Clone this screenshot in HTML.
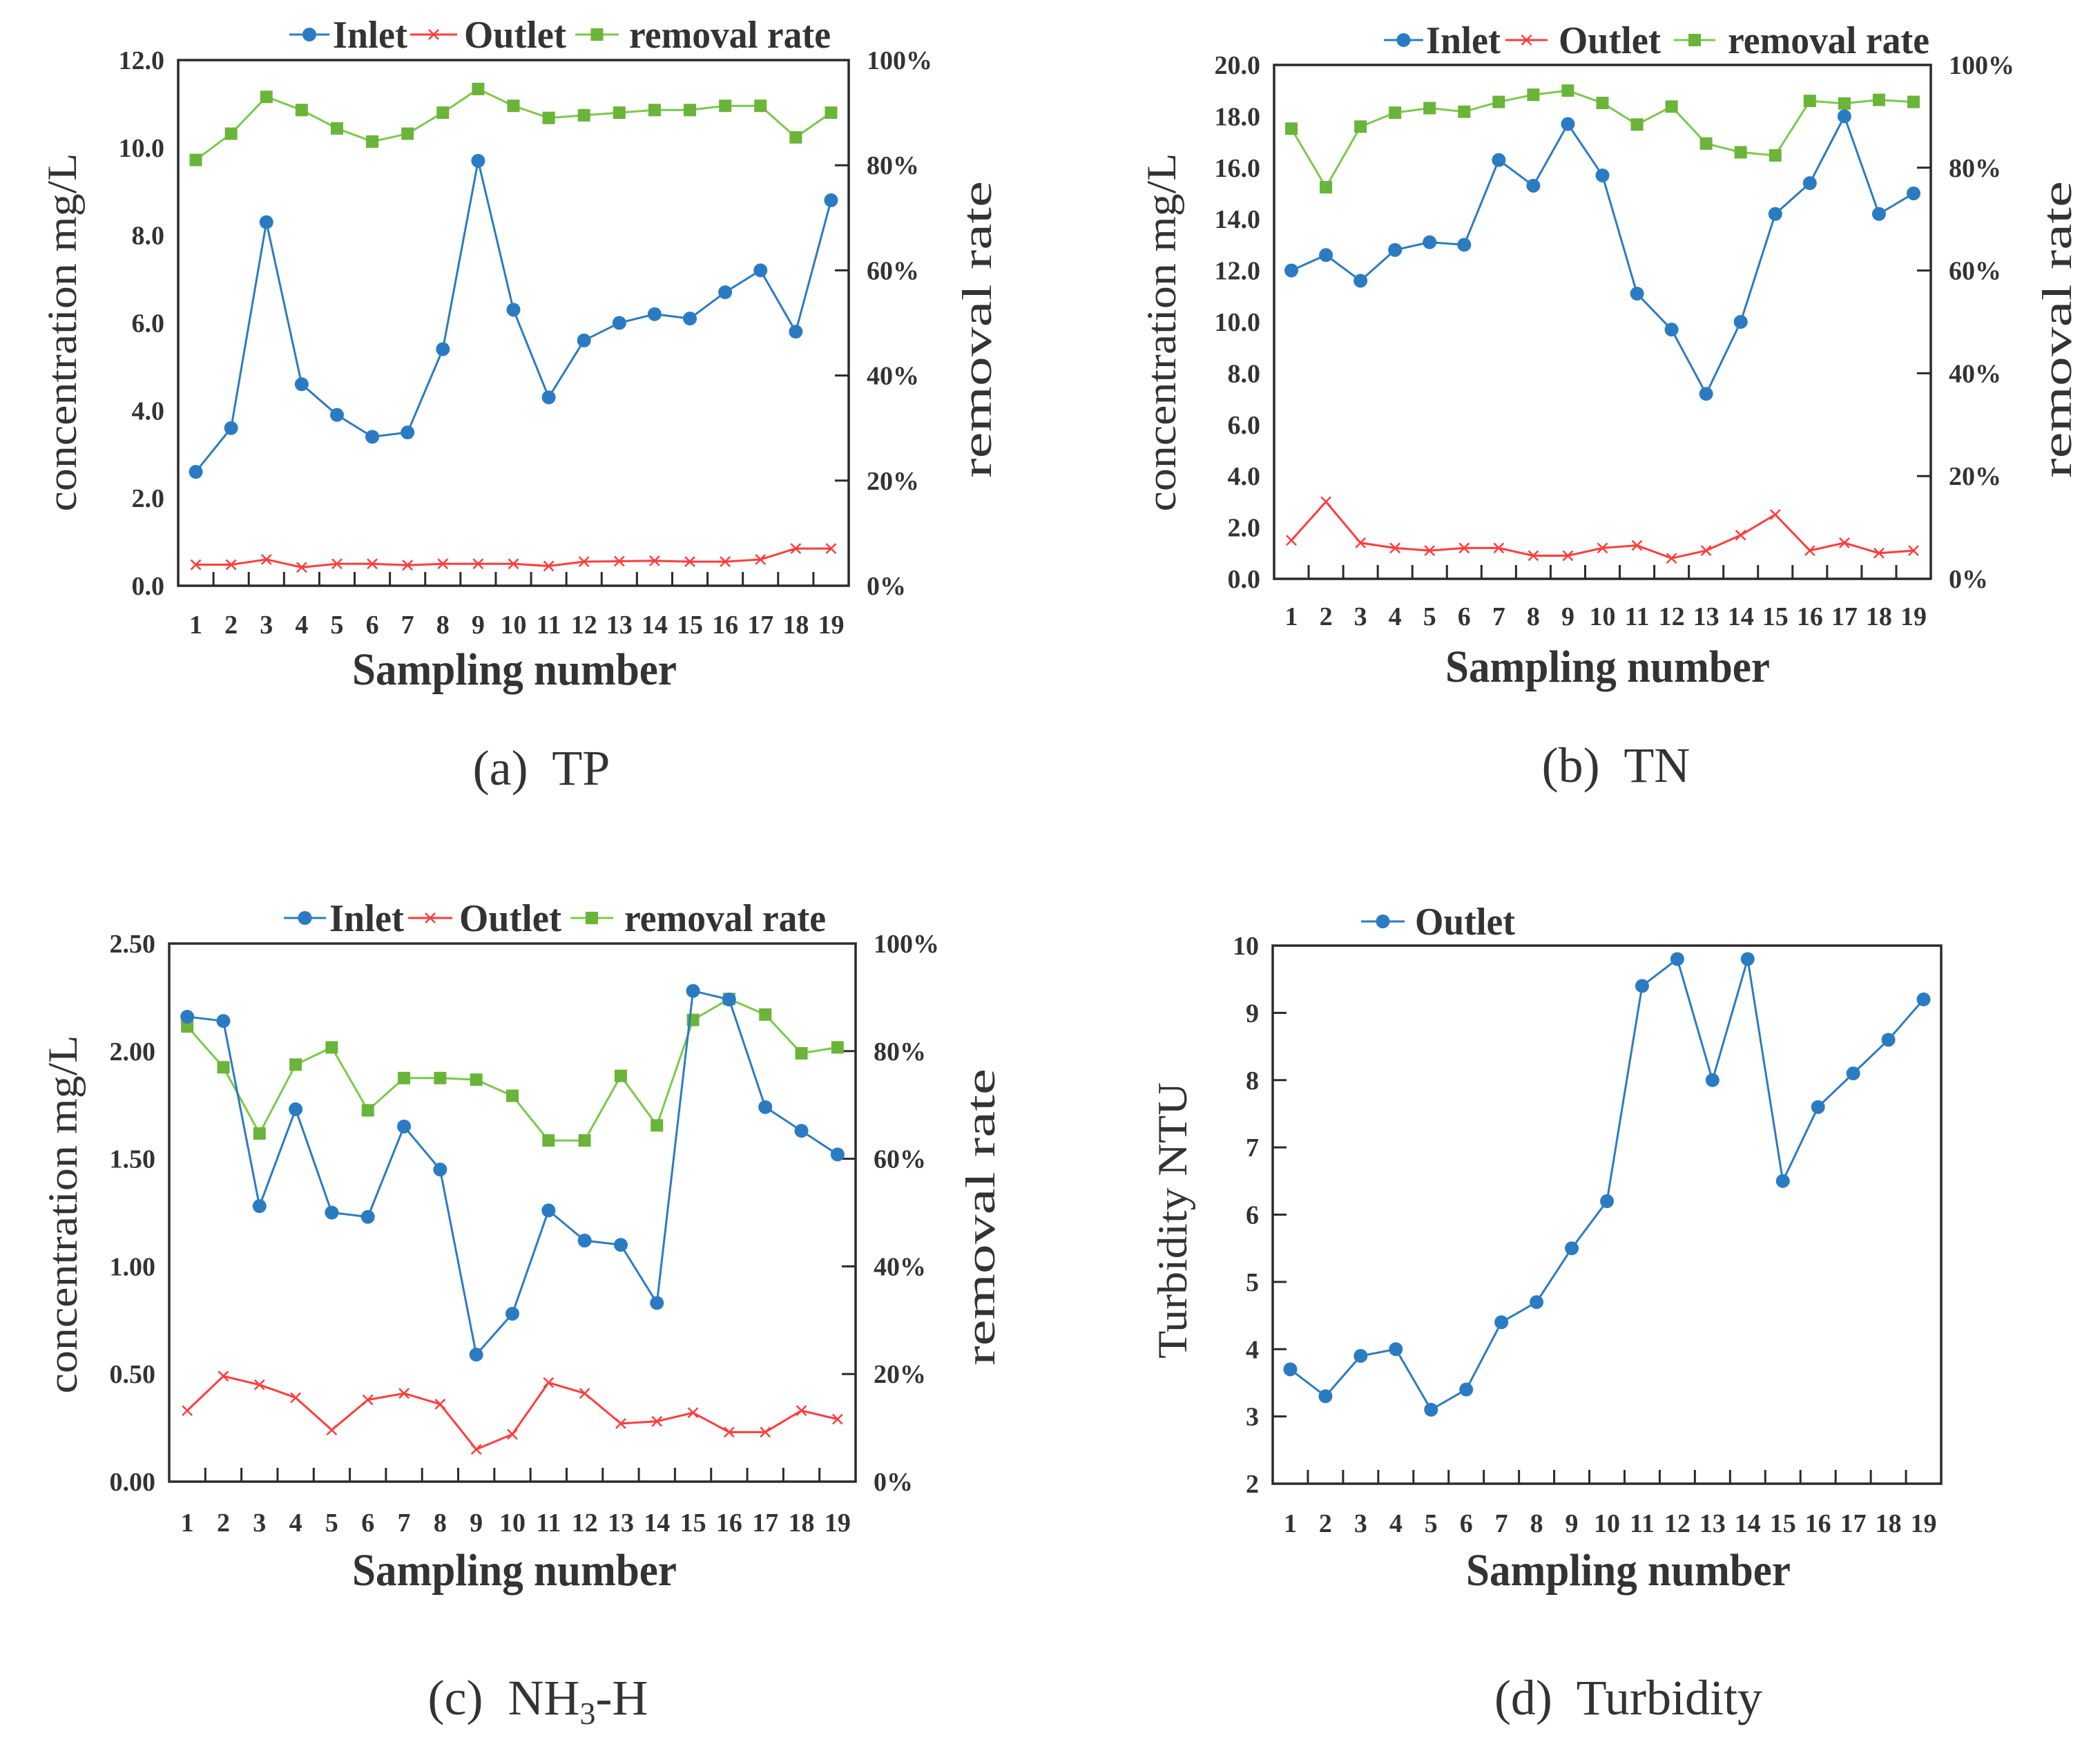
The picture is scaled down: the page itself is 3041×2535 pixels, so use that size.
<!DOCTYPE html>
<html><head><meta charset="utf-8"><style>
html,body{margin:0;padding:0;background:#fff;}
svg{display:block;}
text{font-family:"Liberation Serif",serif;fill:#333;}
</style></head><body>
<svg id="fig" width="3041" height="2535" viewBox="0 0 3041 2535" xmlns="http://www.w3.org/2000/svg"></svg>
<script>
const samples = ["1","2","3","4","5","6","7","8","9","10","11","12","13","14","15","16","17","18","19"];
const tpInlet = [2.6,3.6,8.3,4.6,3.9,3.4,3.5,5.4,9.7,6.3,4.3,5.6,6.0,6.2,6.1,6.7,7.2,5.8,8.8];
const tpOutlet = [0.48,0.48,0.6,0.42,0.5,0.5,0.47,0.5,0.5,0.5,0.45,0.55,0.56,0.57,0.55,0.55,0.6,0.85,0.85];
const tpRemoval = [81,86,93,90.5,87,84.5,86,90,94.5,91.3,89,89.5,90,90.5,90.5,91.3,91.3,85.3,90];
const tnInlet = [12.0,12.6,11.6,12.8,13.1,13.0,16.3,15.3,17.7,15.7,11.1,9.7,7.2,10.0,14.2,15.4,18.0,14.2,15.0];
const tnOutlet = [1.5,3.0,1.4,1.2,1.1,1.2,1.2,0.9,0.9,1.2,1.3,0.8,1.1,1.7,2.5,1.1,1.4,1.0,1.1];
const tnRemoval = [87.6,76.2,88,90.7,91.6,90.9,92.8,94.2,95,92.6,88.4,91.9,84.7,83,82.4,93,92.5,93.2,92.8];
const nhInlet = [2.16,2.14,1.28,1.73,1.25,1.23,1.65,1.45,0.59,0.78,1.26,1.12,1.10,0.83,2.28,2.24,1.74,1.63,1.52];
const nhOutlet = [0.33,0.49,0.45,0.39,0.24,0.38,0.41,0.36,0.15,0.22,0.46,0.41,0.27,0.28,0.32,0.23,0.23,0.33,0.29];
const nhRemoval = [84.6,77,64.7,77.5,80.7,69,75,75,74.7,71.7,63.4,63.4,75.4,66.2,85.8,89.7,86.8,79.6,80.7];
const turbOutlet = [3.7,3.3,3.9,4.0,3.1,3.4,4.4,4.7,5.5,6.2,9.4,9.8,8.0,9.8,6.5,7.6,8.1,8.6,9.2];
const tpTicks = ["0.0","2.0","4.0","6.0","8.0","10.0","12.0"];
const tnTicks = ["0.0","2.0","4.0","6.0","8.0","10.0","12.0","14.0","16.0","18.0","20.0"];
const nhTicks = ["0.00","0.50","1.00","1.50","2.00","2.50"];
const turbTicks = ["2","3","4","5","6","7","8","9","10"];
const pctTicks = ["0%","20%","40%","60%","80%","100%"];

const NS="http://www.w3.org/2000/svg";
const svg=document.getElementById('fig');
const BLUE="#2b7bc2",RED="#ff3c3c",GREEN="#7cc84a",GREENM="#6ab43a";
function mk(tag,attrs,parent){const e=document.createElementNS(NS,tag);for(const k in attrs)e.setAttribute(k,attrs[k]);(parent||svg).appendChild(e);return e;}
function txt(s,attrs,parent){const e=mk('text',attrs,parent);e.textContent=s;return e;}

function marker(g,kind,x,y,color){
  let m;
  if(kind==='circle'){m=mk('circle',{cx:x,cy:y,r:10,fill:color},g);}
  else if(kind==='square'){m=mk('rect',{x:x-9,y:y-9,width:18,height:18,fill:color},g);}
  else {m=mk('path',{d:`M${x-7},${y-7}L${x+7},${y+7}M${x-7},${y+7}L${x+7},${y-7}`,stroke:color,'stroke-width':2.5,fill:'none'},g);}
  return m;
}

function series(g,vals,xs,ys,color,mcolor,kind,name){
  const sg=mk('g',{},g);
  
  
  const pts=vals.map((v,i)=>xs(i)+','+ys(v)).join(' ');
  const pl=mk('polyline',{points:pts,fill:'none',stroke:color,'stroke-width':3},sg);
  
  
  vals.forEach((v,i)=>{
    const m=marker(sg,kind,xs(i),ys(v),mcolor);
    
    
  });
}

function legendEntry(g,x1,x2,y,color,mcolor,kind,label,tx,tw,name){
  const lg=mk('g',{},g);
  
  
  mk('line',{x1:x1,x2:x2,y1:y,y2:y,stroke:color,'stroke-width':3},lg);
  marker(lg,kind,(x1+x2)/2,y,mcolor);
  txt(label,{x:tx,y:y+19,'font-size':56,'font-weight':'bold',textLength:tw,lengthAdjust:'spacingAndGlyphs'},lg);
}

function panel(c){
  const g=mk('g',{});
  
  
  const L=c.L,R=c.R,T=c.T,B=c.B;
  const bw=(R-L)/samples.length;
  const xs=i=>L+(i+0.5)*bw;
  const ys=v=>B-(v-c.ymin)/(c.ymax-c.ymin)*(B-T);
  const yr=v=>B-v/100*(B-T);
  const fr=mk('rect',{x:L,y:T,width:R-L,height:B-T,fill:'none',stroke:'#2a2a2a','stroke-width':3.5},g);
  
  
  for(let i=1;i<samples.length;i++){mk('line',{x1:L+i*bw,x2:L+i*bw,y1:B,y2:B-20,stroke:'#2a2a2a','stroke-width':3},g);}
  const xl=mk('g',{},g);
  
  
  samples.forEach((s,i)=>txt(s,{x:xs(i),y:c.xly,'font-size':38,'font-weight':'bold','text-anchor':'middle'},xl));
  const yl=mk('g',{},g);
  
  
  c.ticks.forEach((t,i)=>{
    const v=c.ymin+i*(c.ymax-c.ymin)/(c.ticks.length-1);
    txt(t,{x:L-20,y:ys(v)+13,'font-size':38,'font-weight':'bold','text-anchor':'end'},yl);
    if(c.leftTicks && i>0 && i<c.ticks.length-1) mk('line',{x1:L,x2:L+20,y1:ys(v),y2:ys(v),stroke:'#2a2a2a','stroke-width':3},g);
  });
  if(c.removal){
    const rl=mk('g',{},g);
    
    
    pctTicks.forEach((t,i)=>{
      const v=i*20;
      txt(t,{x:R+26,y:yr(v)+13,'font-size':38,'font-weight':'bold'},rl);
      if(i>0&&i<5) mk('line',{x1:R,x2:R-20,y1:yr(v),y2:yr(v),stroke:'#2a2a2a','stroke-width':3},g);
    });
    const rt=txt('removal rate',{x:0,y:0,'font-size':60,'text-anchor':'middle',transform:`translate(${c.rtx},${c.rty}) rotate(-90)`,textLength:430,lengthAdjust:'spacingAndGlyphs'},g);
    
    
  }
  const yt=txt(c.ytitle,{x:0,y:0,'font-size':60,'text-anchor':'middle',transform:`translate(${c.ytx},${c.yty}) rotate(-90)`,textLength:c.ytlen,lengthAdjust:'spacingAndGlyphs'},g);
  
  
  const xt=txt('Sampling number',{x:c.xtx,y:c.xty+22,'font-size':66,'font-weight':'bold','text-anchor':'middle',textLength:470,lengthAdjust:'spacingAndGlyphs'},g);
  
  
  const cap=txt('',{x:c.capx,y:c.capy+25,'font-size':72,'text-anchor':'middle'},g);
  
  
  cap.innerHTML=c.caption;
  if(c.removal) series(g,c.removal,xs,yr,GREEN,GREENM,'square',c.name+'-removal');
  if(c.inlet) series(g,c.inlet,xs,ys,BLUE,BLUE,'circle',c.name+'-inlet');
  if(c.outlet) series(g,c.outlet,xs,ys,c.outletColor||RED,c.outletColor||RED,c.outletKind||'x',c.name+'-outlet');
  const lg=mk('g',{},g);
  
  
  c.legend.forEach(e=>legendEntry(lg,e[0],e[1],c.ly,e[2],e[3],e[4],e[5],e[6],e[7],e[8]));
}

panel({name:'panel-tp',L:258,R:1229,T:87,B:848,ymin:0,ymax:12,ticks:tpTicks,inlet:tpInlet,outlet:tpOutlet,removal:tpRemoval,
  xly:917,ytitle:'concentration mg/L',ytx:110,yty:481,ytlen:519,rtx:1435,rty:477,xtx:745,xty:969,capx:784,capy:1111,caption:'(a)&#160; TP',
  ly:50,legend:[[419,477,BLUE,BLUE,'circle','Inlet',482,108,'inlet'],[594,662,RED,RED,'x','Outlet',672,148,'outlet'],[833,896,GREEN,GREENM,'square','removal rate',911,292,'removal-rate']]});
panel({name:'panel-tn',L:1845,R:2796,T:94,B:838,ymin:0,ymax:20,ticks:tnTicks,inlet:tnInlet,outlet:tnOutlet,removal:tnRemoval,
  xly:905,ytitle:'concentration mg/L',ytx:1702,yty:481,ytlen:519,rtx:2999,rty:477,xtx:2328,xty:965,capx:2340,capy:1107,caption:'(b)&#160; TN',
  ly:58,legend:[[2004,2061,BLUE,BLUE,'circle','Inlet',2065,108,'inlet'],[2180,2241,RED,RED,'x','Outlet',2257,148,'outlet'],[2424,2484,GREEN,GREENM,'square','removal rate',2502,292,'removal-rate']]});
panel({name:'panel-nh3',L:245,R:1239,T:1366,B:2145,ymin:0,ymax:2.5,ticks:nhTicks,inlet:nhInlet,outlet:nhOutlet,removal:nhRemoval,
  xly:2217,ytitle:'concentration mg/L',ytx:111,yty:1758,ytlen:519,rtx:1440,rty:1762,xtx:745,xty:2273,capx:779,capy:2457,caption:'(c)&#160; NH<tspan font-size="46" dy="14">3</tspan><tspan dy="-14">-H</tspan>',
  ly:1329,legend:[[411,472,BLUE,BLUE,'circle','Inlet',477,108,'inlet'],[591,655,RED,RED,'x','Outlet',665,148,'outlet'],[826,888,GREEN,GREENM,'square','removal rate',904,292,'removal-rate']]});
panel({name:'panel-turbidity',L:1843,R:2811,T:1369,B:2148,ymin:2,ymax:10,ticks:turbTicks,leftTicks:true,outlet:turbOutlet,outletColor:BLUE,outletKind:'circle',
  xly:2218,ytitle:'Turbidity NTU',ytx:1718,yty:1767,ytlen:400,xtx:2358,xty:2273,capx:2358,capy:2457,caption:'(d)&#160; Turbidity',
  ly:1334,legend:[[1971,2034,BLUE,BLUE,'circle','Outlet',2049,145,'outlet']]});
</script>
</body></html>
